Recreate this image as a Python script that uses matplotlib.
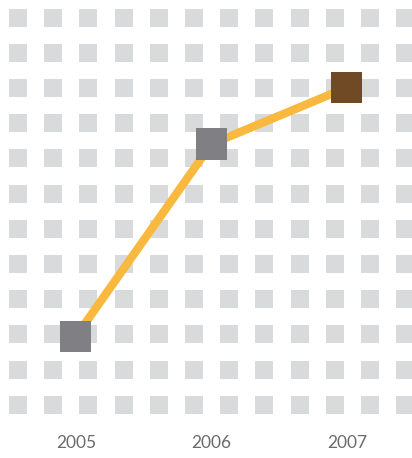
import matplotlib
matplotlib.use('Agg')
import matplotlib.pyplot as plt
from matplotlib.patches import Rectangle

# data
years = [2005, 2006, 2007]
values = [1.215, 3.14, 3.705]
marker_colors = ['#808084', '#808084', '#6f4a25']
year_labels = ['2005', '2006', '2007']

fig = plt.figure(figsize=(4.12, 4.58), dpi=100)

# background pattern of light squares (pixel coords)
bg = fig.add_axes([0, 0, 1, 1])
bg.set_xlim(0, 412)
bg.set_ylim(458, 0)
bg.axis('off')
for cx in range(0, 12):
    for cy in range(0, 12):
        x0 = 9 + cx * 35.2
        y0 = 8.5 + cy * 35.2
        bg.add_patch(Rectangle((x0, y0), 18, 18, color='#d9dadc', lw=0))

# main chart
ax = fig.add_axes([0, 0, 1, 1])
ax.patch.set_alpha(0)
ax.set_xlim(2004.44, 2007.48)
ax.set_ylim(0, 4.58)
ax.axis('off')

ax.plot(years, values, color='#f9b93e', lw=6, solid_capstyle='butt', zorder=2)
ax.scatter(years, values, marker='s', s=31 ** 2 * 0.52, c=marker_colors,
           linewidths=0, zorder=3)

for x, lab in zip(years, year_labels):
    ax.text(x, 0.15, lab, ha='center', va='center', fontsize=12.5,
            color='#6b6b6b', family='Lato')

fig.savefig('out.png', dpi=100)
